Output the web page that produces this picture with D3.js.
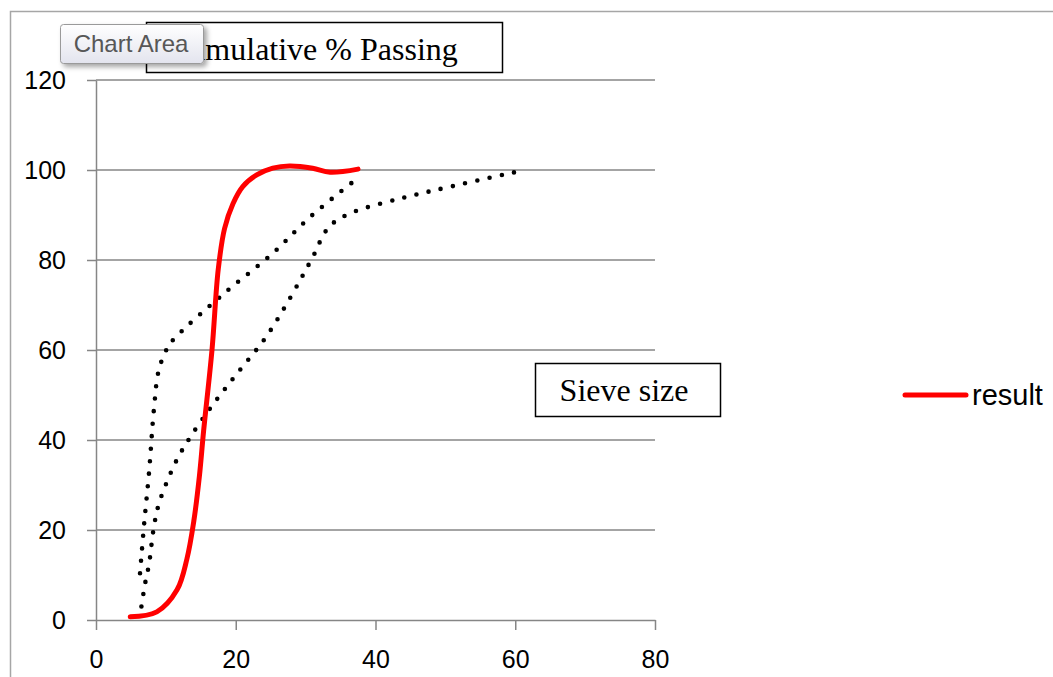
<!DOCTYPE html>
<html>
<head>
<meta charset="utf-8">
<script src="https://cdn.jsdelivr.net/npm/d3@7"></script>
<style>
  body { margin: 0; background: #fff; }
  svg { display: block; }
</style>
</head>
<body>
<svg id="chart"></svg>
<script>
// values (sieve size, % passing)
const resultSize    = [4.9, 8.7, 11.6, 13.0, 14.0, 14.8, 15.4, 16.6, 17.5, 18.4, 19.6, 21, 23, 25.3, 27.7, 31, 33.5, 37.5]
const resultPassing = [0.7, 1.8, 6.7, 13.5, 22, 32, 42, 60, 78, 87, 92.5, 96.3, 98.9, 100.4, 100.9, 100.4, 99.5, 100.2]

const upperSize    = [6.3, 6.9, 7.6, 8.3, 9.0, 10.3, 11.5, 18.2, 25.3, 30.6, 37.7]
const upperPassing = [10.4, 21.5, 33, 47, 55.6, 60.7, 63, 72.4, 81.5, 89.5, 98.5]

const lowerSize    = [6.5, 6.8, 7.1, 7.6, 8.2, 8.9, 10.2, 11.7, 13.6, 16.7, 20.1, 24.6, 31, 32.7, 34, 36.9, 43.9, 51, 59.9]
const lowerPassing = [3, 6, 8.7, 12.5, 19.8, 25.3, 30.9, 36, 40.9, 47.8, 54.6, 63.5, 80.6, 86, 88.3, 90.7, 93.8, 96.4, 99.5]

const xTicks = [0, 20, 40, 60, 80]
const yTicks = [0, 20, 40, 60, 80, 100, 120]

const chartTitle = "Cumulative % Passing"
const xTitle = "Sieve size"
const legendLabel = "result"
const tooltipLabel = "Chart Area"

const sizes = { width: 1053, height: 677 }
const gridColor = '#868686'

let svg = d3.select('#chart')
    .attr('width', sizes.width)
    .attr('height', sizes.height)

// defs: tooltip gradient and shadow
let defs = svg.append('defs')
let grad = defs.append('linearGradient')
    .attr('id', 'tipGrad')
    .attr('x1', 0).attr('y1', 0).attr('x2', 0).attr('y2', 1)
grad.append('stop').attr('offset', '0%').attr('stop-color', '#ffffff')
grad.append('stop').attr('offset', '100%').attr('stop-color', '#e3e4ee')
let shadow = defs.append('filter').attr('id', 'tipShadow')
    .attr('x', '-20%').attr('y', '-20%').attr('width', '150%').attr('height', '160%')
shadow.append('feDropShadow')
    .attr('dx', 3).attr('dy', 3).attr('stdDeviation', 2.5)
    .attr('flood-color', '#000').attr('flood-opacity', 0.35)

svg.append('rect')
    .attr('width', sizes.width)
    .attr('height', sizes.height)
    .attr('fill', '#fff')

// chart area border (left and top only visible)
svg.append('path')
    .attr('d', `M10.5,${sizes.height} V11.5 H${sizes.width}`)
    .attr('fill', 'none')
    .attr('stroke', '#a6a6a6')
    .attr('stroke-width', 1.5)

const x = d3.scaleLinear().domain([0, 80]).range([96, 655])
const y = d3.scaleLinear().domain([0, 120]).range([620, 80])

// horizontal gridlines
svg.append('g')
    .selectAll('line')
    .data(yTicks.filter(d => d > 0))
    .join('line')
    .attr('x1', x(0))
    .attr('x2', x(80))
    .attr('y1', d => y(d))
    .attr('y2', d => y(d))
    .attr('stroke', gridColor)
    .attr('stroke-width', 1.5)

// y axis
let yAxis = svg.append('g')
    .attr('transform', `translate(${x(0)},0)`)
    .call(d3.axisLeft(y).tickValues(yTicks).tickSize(9).tickPadding(21).tickSizeOuter(0))
yAxis.select('.domain').attr('stroke', gridColor).attr('stroke-width', 1.5)
yAxis.selectAll('.tick line').attr('stroke', gridColor).attr('stroke-width', 1.5)
yAxis.selectAll('text')
    .attr('fill', '#000')
    .style('font-family', '"Liberation Sans", Arial, sans-serif')
    .style('font-size', '25px')

// x axis
let xAxis = svg.append('g')
    .attr('transform', `translate(0,${y(0)})`)
    .call(d3.axisBottom(x).tickValues(xTicks).tickSize(10).tickPadding(20).tickSizeOuter(0))
xAxis.select('.domain').attr('stroke', gridColor).attr('stroke-width', 1.5)
xAxis.selectAll('.tick line').attr('stroke', gridColor).attr('stroke-width', 1.5)
xAxis.selectAll('text')
    .attr('fill', '#000')
    .style('font-family', '"Liberation Sans", Arial, sans-serif')
    .style('font-size', '25px')

const line = d3.line()
    .x(d => x(d[0]))
    .y(d => y(d[1]))
    .curve(d3.curveCatmullRom.alpha(0.5))

const pairs = (xs, ys) => xs.map((v, i) => [v, ys[i]])

// dotted envelope lines
;[pairs(upperSize, upperPassing), pairs(lowerSize, lowerPassing)].forEach(data => {
    svg.append('path')
        .attr('d', line(data))
        .attr('fill', 'none')
        .attr('stroke', '#000')
        .attr('stroke-width', 4.6)
        .attr('stroke-linecap', 'round')
        .attr('stroke-dasharray', '0 12.5')
})

// result curve
svg.append('path')
    .attr('d', line(pairs(resultSize, resultPassing)))
    .attr('fill', 'none')
    .attr('stroke', '#ff0000')
    .attr('stroke-width', 5)
    .attr('stroke-linecap', 'round')

// title box
svg.append('rect')
    .attr('x', 146.5).attr('y', 22.5)
    .attr('width', 356).attr('height', 50)
    .attr('fill', '#fff')
    .attr('stroke', '#000')
    .attr('stroke-width', 1.5)
svg.append('text')
    .attr('x', 168)
    .attr('y', 60)
    .style('font-family', '"Liberation Serif", "Times New Roman", serif')
    .style('font-size', '32px')
    .text(chartTitle)

// x axis title box
svg.append('rect')
    .attr('x', 535.5).attr('y', 363.5)
    .attr('width', 185).attr('height', 53)
    .attr('fill', '#fff')
    .attr('stroke', '#000')
    .attr('stroke-width', 1.5)
svg.append('text')
    .attr('x', 624)
    .attr('y', 401)
    .attr('text-anchor', 'middle')
    .style('font-family', '"Liberation Serif", "Times New Roman", serif')
    .style('font-size', '32px')
    .text(xTitle)

// legend
svg.append('line')
    .attr('x1', 905).attr('x2', 966)
    .attr('y1', 395).attr('y2', 395)
    .attr('stroke', '#ff0000')
    .attr('stroke-width', 5)
    .attr('stroke-linecap', 'round')
svg.append('text')
    .attr('x', 972)
    .attr('y', 405)
    .style('font-family', '"Liberation Sans", Arial, sans-serif')
    .style('font-size', '29px')
    .text(legendLabel)

// "Chart Area" hover tooltip
svg.append('rect')
    .attr('x', 60.5).attr('y', 24.5)
    .attr('width', 143).attr('height', 39)
    .attr('rx', 3)
    .attr('fill', 'url(#tipGrad)')
    .attr('stroke', '#9a9a9a')
    .attr('filter', 'url(#tipShadow)')
svg.append('text')
    .attr('x', 131)
    .attr('y', 52)
    .attr('text-anchor', 'middle')
    .attr('fill', '#575757')
    .style('font-family', '"Liberation Sans", Arial, sans-serif')
    .style('font-size', '24px')
    .text(tooltipLabel)
</script>
</body>
</html>
